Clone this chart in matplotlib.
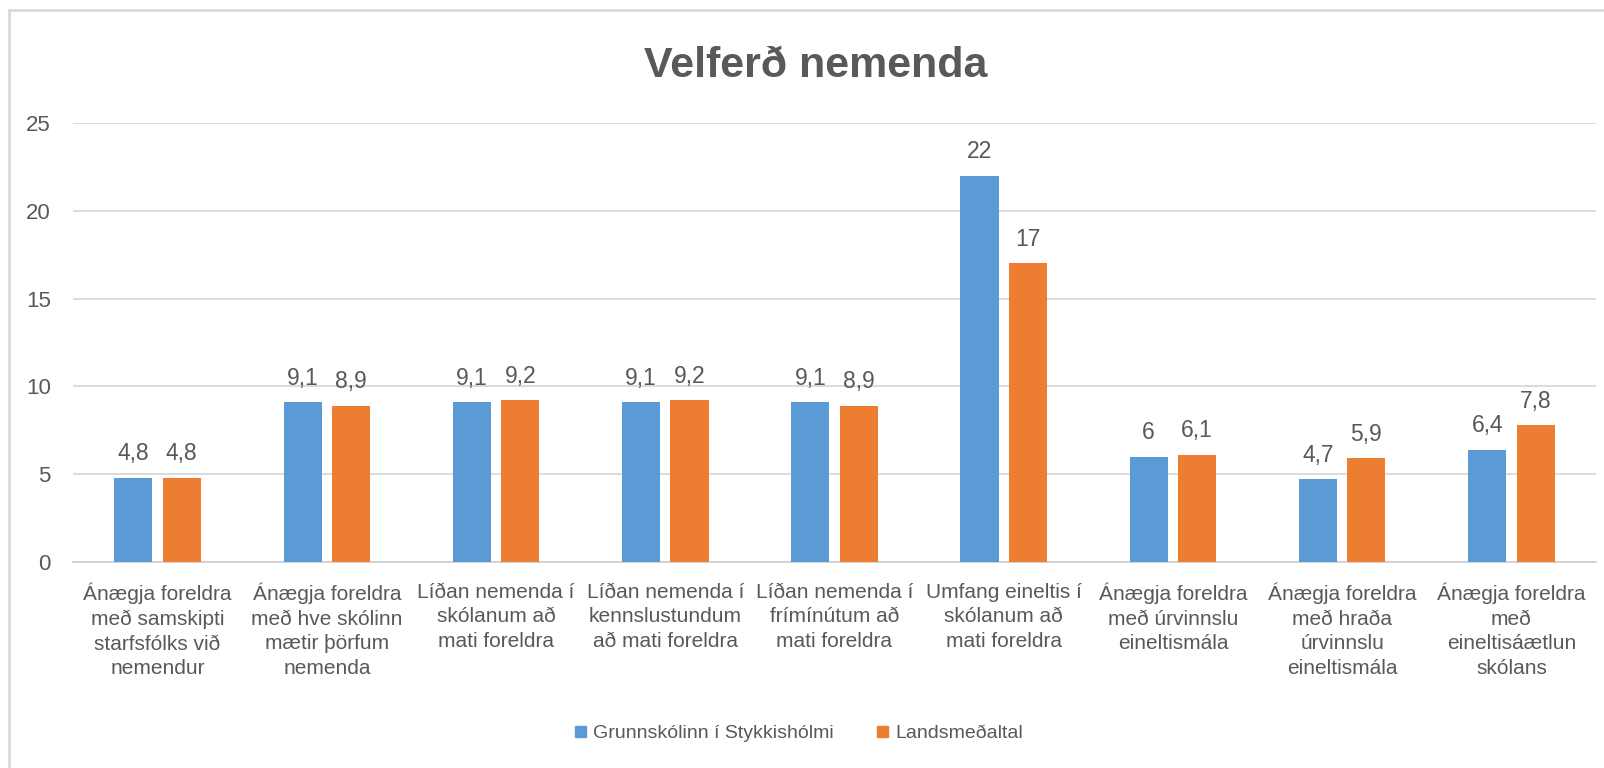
import numpy as np
import matplotlib
matplotlib.use("Agg")
import matplotlib.pyplot as plt
from matplotlib.patches import Rectangle, Patch

plt.rcParams['font.family'] = ['Liberation Sans Narrow', 'Liberation Sans', 'DejaVu Sans']

categories = [
    "Ánægja foreldra\nmeð samskipti\nstarfsfólks við\nnemendur",
    "Ánægja foreldra\nmeð hve skólinn\nmætir þörfum\nnemenda",
    "Líðan nemenda í\nskólanum að\nmati foreldra",
    "Líðan nemenda í\nkennslustundum\nað mati foreldra",
    "Líðan nemenda í\nfrímínútum að\nmati foreldra",
    "Umfang eineltis í\nskólanum að\nmati foreldra",
    "Ánægja foreldra\nmeð úrvinnslu\neineltismála",
    "Ánægja foreldra\nmeð hraða\núrvinnslu\neineltismála",
    "Ánægja foreldra\nmeð\neineltisáætlun\nskólans",
]
school = [4.8, 9.1, 9.1, 9.1, 9.1, 22, 6, 4.7, 6.4]
national = [4.8, 8.9, 9.2, 9.2, 8.9, 17, 6.1, 5.9, 7.8]
series_names = ["Grunnskólinn í Stykkishólmi", "Landsmeðaltal"]
yticks = [0, 5, 10, 15, 20, 25]

blue = "#5B9BD5"
orange = "#ED7D31"
txt = "#595959"
grid = "#D9D9D9"
numfont = ['Liberation Sans', 'DejaVu Sans']

fig = plt.figure(figsize=(16.04, 7.68), dpi=100)
ax = fig.add_axes([73/1604, 1-562/768, (1596-73)/1604, (562-123)/768])

x = np.arange(len(categories))
w = 0.225
off = 0.143
b1 = ax.bar(x - off, school, w, color=blue, zorder=3)
b2 = ax.bar(x + off, national, w, color=orange, zorder=3)

def fmt(v):
    return f"{v:g}".replace(".", ",")

for bars, vals in [(b1, school), (b2, national)]:
    for r, v in zip(bars, vals):
        ax.annotate(fmt(v), (r.get_x() + r.get_width()/2, v), xytext=(0, 9),
                    textcoords="offset points", ha="center", va="bottom",
                    fontsize=16.5, color=txt, family=numfont)

ax.set_xlim(-0.5, len(categories) - 0.5)
ax.set_ylim(0, 25)
ax.set_yticks(yticks)
ax.set_yticklabels([str(t) for t in yticks], fontsize=16, color=txt, family=numfont)
ax.set_xticks(x)
ax.set_xticklabels(categories, fontsize=15, color=txt, linespacing=1.36)
ax.tick_params(axis='y', length=0, pad=16)
ax.tick_params(axis='x', length=0, pad=15)
ax.yaxis.grid(True, color=grid, lw=1.3, zorder=0)
ax.set_axisbelow(True)
for s in ['top', 'right', 'left']:
    ax.spines[s].set_visible(False)
ax.spines['bottom'].set_color('#D0D0D0')
ax.spines['bottom'].set_linewidth(1.3)

fig.text(816/1604, 1-66/768, "Velferð nemenda", ha="center", va="center",
         fontsize=31, fontweight="bold", color=txt, family=numfont)

handles = [Patch(color=blue), Patch(color=orange)]
fig.legend(handles, series_names, loc="center", bbox_to_anchor=(799/1604, 1-734/768),
           ncol=2, frameon=False, fontsize=14, labelcolor=txt,
           handlelength=0.55, handleheight=0.55, handletextpad=0.4, columnspacing=2.2)

fig.patches.append(Rectangle((9/1604, -0.1), 1.2, 1.1 - 10/768, transform=fig.transFigure,
                             fill=False, edgecolor=grid, lw=2))

fig.savefig("out.png", dpi=100)
